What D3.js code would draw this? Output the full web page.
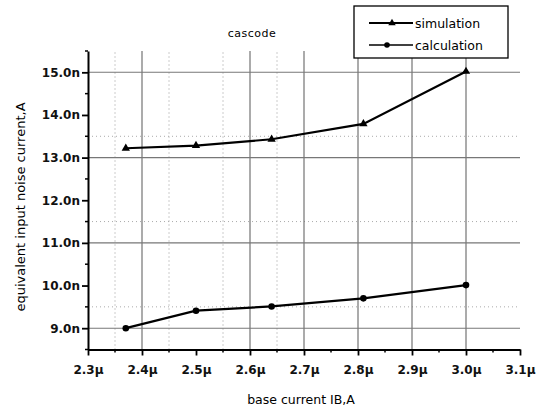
<!DOCTYPE html>
<html>
<head>
<meta charset="utf-8">
<script src="https://cdn.jsdelivr.net/npm/d3@7"></script>
<style>
  body { margin: 0; background: #fff; }
  svg { display: block; font-family: "DejaVu Sans", Verdana, sans-serif; }
</style>
</head>
<body>
<div id="chart"></div>
<script>
// chart data
const SIM_X = [2.37, 2.50, 2.64, 2.81, 3.00];
const SIM_Y = [13.22, 13.28, 13.43, 13.79, 15.02];
const CALC_X = [2.37, 2.50, 2.64, 2.81, 3.00];
const CALC_Y = [9.00, 9.41, 9.51, 9.70, 10.01];

const X_TICKS = [2.3, 2.4, 2.5, 2.6, 2.7, 2.8, 2.9, 3.0, 3.1];
const Y_TICKS = [9, 10, 11, 12, 13, 14, 15];
const X_GRID = [2.4, 2.6, 2.7, 2.8, 2.9, 3.0];
const X_GRID_MINOR = [2.35, 2.45, 2.55, 2.65];
const Y_GRID = [9, 11, 13, 15];
const Y_GRID_MINOR = [9.5, 11.5, 13.5];

const FRAME_WIDTH = 537;
const FRAME_HEIGHT = 408;
const MARGINS = {left: 88, right: 17, top: 51, bottom: 58.5};

const FRAME = d3.select("#chart")
  .append("svg")
  .attr("width", FRAME_WIDTH)
  .attr("height", FRAME_HEIGHT);

const X_SCALE = d3.scaleLinear()
  .domain([2.3, 3.1])
  .range([MARGINS.left, FRAME_WIDTH - MARGINS.right]);

const Y_SCALE = d3.scaleLinear()
  .domain([8.5, 15.5])
  .range([FRAME_HEIGHT - MARGINS.bottom, MARGINS.top]);

const Y0 = Y_SCALE.range()[0], Y1 = Y_SCALE.range()[1];
const X0 = X_SCALE.range()[0], X1 = X_SCALE.range()[1];

// grid lines
FRAME.append("g").selectAll("line").data(X_GRID_MINOR).enter().append("line")
  .attr("x1", d => X_SCALE(d)).attr("x2", d => X_SCALE(d))
  .attr("y1", Y0).attr("y2", Y1)
  .attr("stroke", "#999").attr("stroke-dasharray", "1,3");
FRAME.append("g").selectAll("line").data(Y_GRID_MINOR).enter().append("line")
  .attr("x1", X0).attr("x2", X1)
  .attr("y1", d => Y_SCALE(d)).attr("y2", d => Y_SCALE(d))
  .attr("stroke", "#aaa").attr("stroke-dasharray", "1,3");
FRAME.append("g").selectAll("line").data(X_GRID).enter().append("line")
  .attr("x1", d => X_SCALE(d)).attr("x2", d => X_SCALE(d))
  .attr("y1", Y0).attr("y2", Y1)
  .attr("stroke", "#666").attr("stroke-width", 1.1);
FRAME.append("g").selectAll("line").data(Y_GRID).enter().append("line")
  .attr("x1", X0).attr("x2", X1)
  .attr("y1", d => Y_SCALE(d)).attr("y2", d => Y_SCALE(d))
  .attr("stroke", "#777").attr("stroke-width", 1.1);

// axes
const X_AXIS = FRAME.append("g")
  .attr("transform", "translate(0," + Y0 + ")")
  .call(d3.axisBottom(X_SCALE).tickValues(X_TICKS).tickSize(6).tickSizeOuter(0)
    .tickFormat(d => d3.format(".1f")(d) + "μ"));
X_AXIS.append("g").selectAll("line").data(X_GRID_MINOR.concat([2.75, 2.85, 2.95, 3.05])).enter()
  .append("line")
  .attr("x1", d => X_SCALE(d)).attr("x2", d => X_SCALE(d))
  .attr("y1", 0).attr("y2", 3).attr("stroke", "#000").attr("stroke-width", 1.5);

const Y_AXIS = FRAME.append("g")
  .attr("transform", "translate(" + X0 + ",0)")
  .call(d3.axisLeft(Y_SCALE).tickValues(Y_TICKS).tickSize(6).tickSizeOuter(0)
    .tickFormat(d => d3.format(".1f")(d) + "n"));
Y_AXIS.append("g").selectAll("line").data([8.5, 9.5, 10.5, 11.5, 12.5, 13.5, 14.5, 15.5]).enter()
  .append("line")
  .attr("x1", 0).attr("x2", -3)
  .attr("y1", d => Y_SCALE(d)).attr("y2", d => Y_SCALE(d))
  .attr("stroke", "#000").attr("stroke-width", 1.5);

[X_AXIS, Y_AXIS].forEach(a => {
  a.select(".domain").attr("stroke", "#000").attr("stroke-width", 2);
  a.selectAll(".tick line").attr("stroke", "#000").attr("stroke-width", 1.8);
  a.selectAll(".tick text").attr("font-size", 12).attr("font-weight", "bold")
    .attr("fill", "#111").attr("font-family", "'DejaVu Sans', Verdana, sans-serif");
});
X_AXIS.selectAll(".tick text").attr("dy", "1.25em");
Y_AXIS.selectAll(".tick text").attr("x", -8);

// series lines
const SIM = SIM_X.map((x, i) => [x, SIM_Y[i]]);
const CALC = CALC_X.map((x, i) => [x, CALC_Y[i]]);
const LINE = d3.line().x(d => X_SCALE(d[0])).y(d => Y_SCALE(d[1]));

FRAME.append("path").datum(SIM).attr("d", LINE)
  .attr("fill", "none").attr("stroke", "#000").attr("stroke-width", 2.2);
FRAME.append("path").datum(CALC).attr("d", LINE)
  .attr("fill", "none").attr("stroke", "#000").attr("stroke-width", 2.2);

FRAME.append("g").selectAll("path").data(SIM).enter().append("path")
  .attr("transform", d => "translate(" + X_SCALE(d[0]) + "," + Y_SCALE(d[1]) + ")")
  .attr("d", d3.symbol().type(d3.symbolTriangle).size(30))
  .attr("fill", "#000");
FRAME.append("g").selectAll("circle").data(CALC).enter().append("circle")
  .attr("cx", d => X_SCALE(d[0])).attr("cy", d => Y_SCALE(d[1]))
  .attr("r", 3.3).attr("fill", "#000");

// title
FRAME.append("text")
  .attr("x", 252).attr("y", 37)
  .attr("text-anchor", "middle").attr("font-size", 11)
  .attr("letter-spacing", 0.5)
  .text("cascode");

// axis titles
FRAME.append("text")
  .attr("x", 301).attr("y", 404)
  .attr("text-anchor", "middle").attr("font-size", 12.5)
  .text("base current IB,A");
FRAME.append("text")
  .attr("transform", "translate(25,207) rotate(-90)")
  .attr("text-anchor", "middle").attr("font-size", 13)
  .text("equivalent input noise current,A");

// legend
const LEGEND = FRAME.append("g");
LEGEND.append("rect")
  .attr("x", 354).attr("y", 6).attr("width", 154).attr("height", 52)
  .attr("fill", "#fff").attr("stroke", "#000").attr("stroke-width", 1.3);
const LEG_ITEMS = ["simulation", "calculation"];
LEG_ITEMS.forEach((name, i) => {
  const y = 23 + i * 22;
  LEGEND.append("line").attr("x1", 369).attr("x2", 413).attr("y1", y).attr("y2", y)
    .attr("stroke", "#000").attr("stroke-width", i === 0 ? 2.2 : 1.6);
  if (i === 0) {
    LEGEND.append("path").attr("transform", "translate(392," + y + ")")
      .attr("d", d3.symbol().type(d3.symbolTriangle).size(24)).attr("fill", "#000");
  } else {
    LEGEND.append("circle").attr("cx", 387).attr("cy", y).attr("r", 2.8).attr("fill", "#000");
  }
  LEGEND.append("text").attr("x", 415).attr("y", y + 4.5)
    .attr("font-size", 12.5).text(name);
});
</script>
</body>
</html>
